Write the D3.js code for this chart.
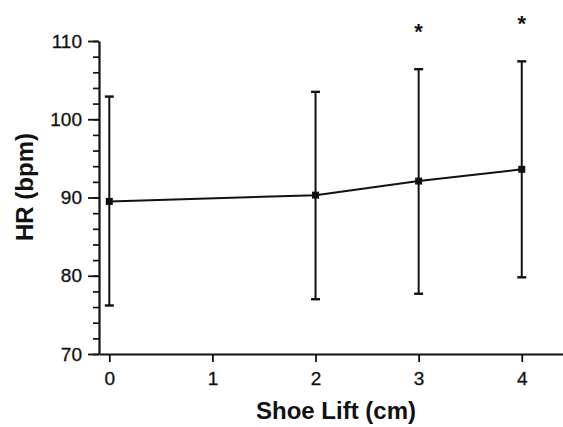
<!DOCTYPE html>
<html>
<head>
<meta charset="utf-8">
<script src="https://cdn.jsdelivr.net/npm/d3@7"></script>
<style>
  body { margin: 0; background: #fff; }
  text { font-family: "Liberation Sans", Arial, Helvetica, sans-serif; fill: #111; }
</style>
</head>
<body>
<div class="hr_chart"></div>
<script>
// data
var lifts = [0, 2, 3, 4];
var meanHR = [89.5, 90.3, 92.1, 93.6];
var upperHR = [102.9, 103.5, 106.4, 107.4];
var lowerHR = [76.2, 77.0, 77.7, 79.8];
var significant = [false, false, true, true];
var xTicks = [0, 1, 2, 3, 4];
var yTicks = [70, 80, 90, 100, 110];

var svg = d3.select(".hr_chart")
  .append("svg")
  .attr("width", 563)
  .attr("height", 427);

var x = d3.scaleLinear()
  .domain([-0.1, 4.4])
  .range([99, 563]);

var y = d3.scaleLinear()
  .domain([70, 110])
  .range([354, 41]);

// y axis with minor ticks
var yMinor = d3.range(70, 110.1, 2);
svg.append("g")
  .attr("transform", "translate(99,0)")
  .call(d3.axisLeft(y).tickValues(yMinor).tickSize(6).tickFormat(""))
  .call(function(g) { g.select(".domain").remove(); })
  .selectAll("line").attr("stroke", "#111").attr("stroke-width", 1.7);

svg.append("g")
  .attr("class", "y axis")
  .attr("transform", "translate(99,0)")
  .call(d3.axisLeft(y).tickValues(yTicks).tickSize(11).tickSizeOuter(0).tickPadding(6))
  .call(function(g) {
    g.select(".domain").attr("stroke", "#111").attr("stroke-width", 2.2);
    g.selectAll("line").attr("stroke", "#111").attr("stroke-width", 1.8);
    g.selectAll("text").attr("font-size", 19).style("font-family", "Liberation Sans, Arial, sans-serif")
      .attr("fill", "#111").attr("stroke", "#111").attr("stroke-width", 0.3);
  });

// x axis
svg.append("g")
  .attr("class", "x axis")
  .attr("transform", "translate(0,354)")
  .call(d3.axisBottom(x).tickValues(xTicks).tickSize(8).tickSizeOuter(0).tickPadding(10).tickFormat(d3.format("d")))
  .call(function(g) {
    g.select(".domain").attr("stroke", "#111").attr("stroke-width", 2.2);
    g.selectAll("line").attr("stroke", "#111").attr("stroke-width", 1.8);
    g.selectAll("text").attr("font-size", 19).style("font-family", "Liberation Sans, Arial, sans-serif")
      .attr("fill", "#111").attr("stroke", "#111").attr("stroke-width", 0.3);
  });

var points = lifts.map(function(d, i) {
  return {lift: d, mean: meanHR[i], hi: upperHR[i], lo: lowerHR[i], sig: significant[i]};
});

// error bars
var bars = svg.append("g").selectAll("g")
  .data(points)
  .enter().append("g");

bars.append("line")
  .attr("x1", function(d) { return x(d.lift); })
  .attr("x2", function(d) { return x(d.lift); })
  .attr("y1", function(d) { return y(d.hi); })
  .attr("y2", function(d) { return y(d.lo); })
  .attr("stroke", "#111")
  .attr("stroke-width", 2);

bars.append("line")
  .attr("x1", function(d) { return x(d.lift) - 4.5; })
  .attr("x2", function(d) { return x(d.lift) + 4.5; })
  .attr("y1", function(d) { return y(d.hi); })
  .attr("y2", function(d) { return y(d.hi); })
  .attr("stroke", "#111")
  .attr("stroke-width", 2.4);

bars.append("line")
  .attr("x1", function(d) { return x(d.lift) - 4.5; })
  .attr("x2", function(d) { return x(d.lift) + 4.5; })
  .attr("y1", function(d) { return y(d.lo); })
  .attr("y2", function(d) { return y(d.lo); })
  .attr("stroke", "#111")
  .attr("stroke-width", 2.4);

// mean line
svg.append("path")
  .datum(points)
  .attr("fill", "none")
  .attr("stroke", "#111")
  .attr("stroke-width", 2)
  .attr("d", d3.line()
    .x(function(d) { return x(d.lift); })
    .y(function(d) { return y(d.mean); }));

// square markers
svg.append("g").selectAll("rect")
  .data(points)
  .enter().append("rect")
  .attr("x", function(d) { return x(d.lift) - 3.5; })
  .attr("y", function(d) { return y(d.mean) - 3.5; })
  .attr("width", 7)
  .attr("height", 7)
  .attr("fill", "#111");

// significance stars
svg.append("g").selectAll("text")
  .data(points.filter(function(d) { return d.sig; }))
  .enter().append("text")
  .attr("x", function(d) { return x(d.lift); })
  .attr("y", function(d) { return y(d.hi) - 30; })
  .attr("text-anchor", "middle")
  .attr("font-size", 22)
  .attr("font-weight", "bold")
  .text("*");

// axis titles
svg.append("text")
  .attr("transform", "translate(33,187) rotate(-90)")
  .attr("text-anchor", "middle")
  .attr("font-size", 24)
  .attr("font-weight", "bold")
  .text("HR (bpm)");

svg.append("text")
  .attr("x", 336)
  .attr("y", 419)
  .attr("text-anchor", "middle")
  .attr("font-size", 24)
  .attr("font-weight", "bold")
  .text("Shoe Lift (cm)");
</script>
</body>
</html>
